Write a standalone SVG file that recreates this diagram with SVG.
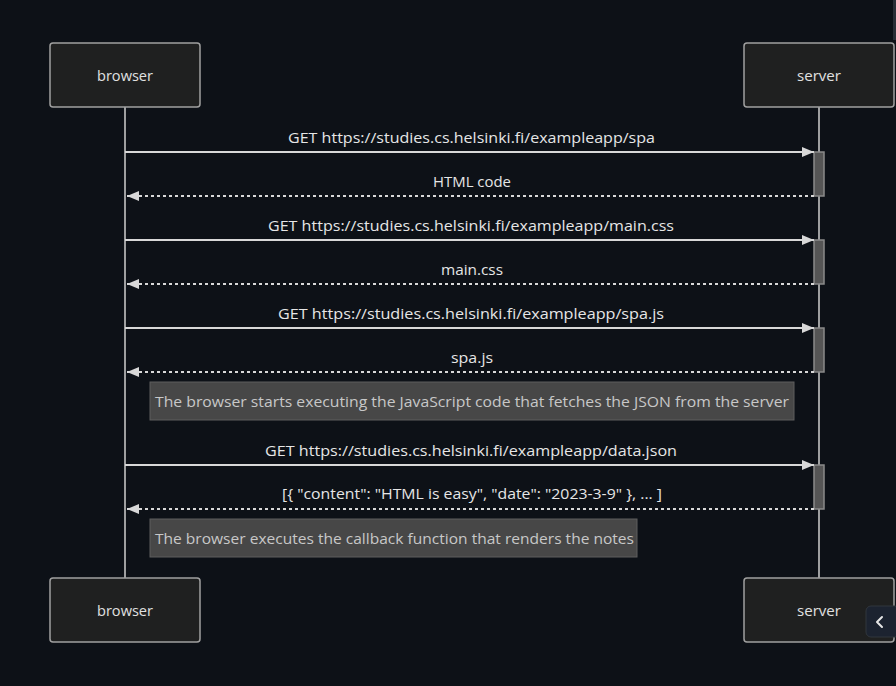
<svg xmlns="http://www.w3.org/2000/svg" width="896" height="686" viewBox="0 0 896 686">
<style>
.actor{fill:#1f2020;stroke:#a0a0a0;stroke-width:1.5}
.alabel{font-family:"Open Sans","Liberation Sans",Arial,sans-serif;font-size:15px;fill:#e0e0e0;text-anchor:middle}
.life{stroke:#cfcfcf;stroke-width:1.5}
.msg{stroke:#d8d8d8;stroke-width:2;fill:none}
.dash{stroke-dasharray:3,3}
.mtext{font-family:"Open Sans","Liberation Sans",Arial,sans-serif;font-size:15px;fill:#e6e6e6;text-anchor:middle}
.act{fill:#555555;stroke:#8a8a8a;stroke-width:1.5}
.note{fill:#474747;stroke:#5e5e5e;stroke-width:1}
.ntext{font-family:"Open Sans","Liberation Sans",Arial,sans-serif;font-size:15px;fill:#c8c8c8;text-anchor:start}
</style>
<defs>
<marker id="ah" viewBox="0 0 12 10" refX="12" refY="5" markerWidth="12" markerHeight="10" markerUnits="userSpaceOnUse" orient="auto">
<path d="M0,0 L12,5 L0,10 z" fill="#d8d8d8"/>
</marker>
</defs>
<rect width="896" height="686" fill="#0d1117"/>
<rect x="893" y="0" width="4" height="40" fill="#2a2f37"/>

<g id="lifelines">
<line class="life" x1="125" y1="107" x2="125" y2="578"/>
<line class="life" x1="819" y1="107" x2="819" y2="578"/>
</g>

<g id="browser-top"><rect class="actor" x="50" y="43" width="150" height="64" rx="3"/><text class="alabel" x="125" y="81" textLength="56" lengthAdjust="spacingAndGlyphs">browser</text></g>
<g id="server-top"><rect class="actor" x="744" y="43" width="150" height="64" rx="3"/><text class="alabel" x="819" y="81" textLength="44" lengthAdjust="spacingAndGlyphs">server</text></g>
<g id="browser-bottom"><rect class="actor" x="50" y="578" width="150" height="64" rx="3"/><text class="alabel" x="125" y="616" textLength="56" lengthAdjust="spacingAndGlyphs">browser</text></g>
<g id="server-bottom"><rect class="actor" x="744" y="578" width="150" height="64" rx="3"/><text class="alabel" x="819" y="616" textLength="44" lengthAdjust="spacingAndGlyphs">server</text></g>

<g id="activations">
<rect class="act" x="814" y="152" width="10" height="44"/>
<rect class="act" x="814" y="240" width="10" height="44"/>
<rect class="act" x="814" y="328" width="10" height="44"/>
<rect class="act" x="814" y="465" width="10" height="44"/>
</g>

<g id="connectors">
<line class="msg" x1="125" y1="152" x2="814" y2="152" marker-end="url(#ah)"/>
<line class="msg dash" x1="814" y1="196" x2="127" y2="196" marker-end="url(#ah)"/>
<line class="msg" x1="125" y1="240" x2="814" y2="240" marker-end="url(#ah)"/>
<line class="msg dash" x1="814" y1="284" x2="127" y2="284" marker-end="url(#ah)"/>
<line class="msg" x1="125" y1="328" x2="814" y2="328" marker-end="url(#ah)"/>
<line class="msg dash" x1="814" y1="372" x2="127" y2="372" marker-end="url(#ah)"/>
<line class="msg" x1="125" y1="465" x2="814" y2="465" marker-end="url(#ah)"/>
<line class="msg dash" x1="814" y1="509" x2="127" y2="509" marker-end="url(#ah)"/>
</g>

<g id="labels">
<text class="mtext" x="471.5" y="143" textLength="367" lengthAdjust="spacingAndGlyphs">GET https://studies.cs.helsinki.fi/exampleapp/spa</text>
<text class="mtext" x="472" y="187" textLength="78" lengthAdjust="spacingAndGlyphs">HTML code</text>
<text class="mtext" x="471" y="231" textLength="406" lengthAdjust="spacingAndGlyphs">GET https://studies.cs.helsinki.fi/exampleapp/main.css</text>
<text class="mtext" x="472" y="275" textLength="62" lengthAdjust="spacingAndGlyphs">main.css</text>
<text class="mtext" x="471" y="319" textLength="386" lengthAdjust="spacingAndGlyphs">GET https://studies.cs.helsinki.fi/exampleapp/spa.js</text>
<text class="mtext" x="472" y="363" textLength="42" lengthAdjust="spacingAndGlyphs">spa.js</text>
<text class="mtext" x="471" y="456" textLength="412" lengthAdjust="spacingAndGlyphs">GET https://studies.cs.helsinki.fi/exampleapp/data.json</text>
<text class="mtext" x="472" y="499" textLength="380" lengthAdjust="spacingAndGlyphs">[{ "content": "HTML is easy", "date": "2023-3-9" }, ... ]</text>
</g>

<g id="note1"><rect class="note" x="150" y="382" width="644" height="38"/><text class="ntext" x="155" y="407" textLength="634" lengthAdjust="spacingAndGlyphs">The browser starts executing the JavaScript code that fetches the JSON from the server</text></g>
<g id="note2"><rect class="note" x="150" y="519" width="487" height="38"/><text class="ntext" x="155" y="544" textLength="479" lengthAdjust="spacingAndGlyphs">The browser executes the callback function that renders the notes</text></g>

<g id="collapse-button">
<rect x="866" y="606" width="34" height="31" rx="5" fill="#1c2330" stroke="#30363d"/>
<path d="M882,617 L877,622 L882,627" fill="none" stroke="#e6e6e6" stroke-width="2" stroke-linecap="round" stroke-linejoin="round"/>
</g>
</svg>
